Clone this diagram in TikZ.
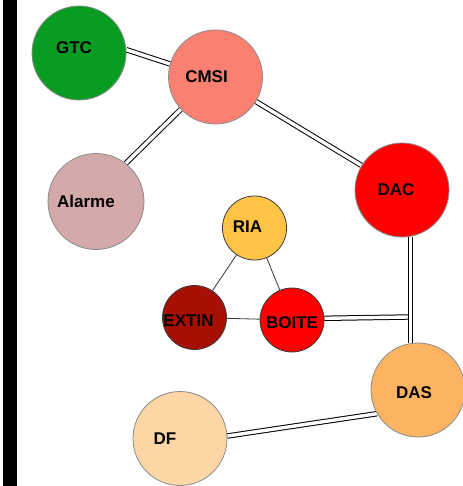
\documentclass[tikz,border=0pt]{standalone}
\usepackage{fontspec}
\setsansfont{Liberation Sans}
\usetikzlibrary{calc,backgrounds}
\definecolor{gtcfill}{HTML}{089C23}
\definecolor{cmsifill}{HTML}{FA8072}
\definecolor{alarmfill}{HTML}{D4A9A9}
\definecolor{dacfill}{HTML}{FF0000}
\definecolor{riafill}{HTML}{FFC445}
\definecolor{extinfill}{HTML}{A60F03}
\definecolor{boitefill}{HTML}{FF0000}
\definecolor{dasfill}{HTML}{FDB462}
\definecolor{dffill}{HTML}{FDD6A6}
\definecolor{rimgray}{HTML}{8A8A8A}
\definecolor{inkdark}{HTML}{3A3A3A}

\begin{document}
\begin{tikzpicture}[
  x=1pt, y=-1pt,
  font=\sffamily\bfseries\fontsize{17}{17}\selectfont,
  big/.style   = {circle, draw=rimgray, line width=0.8pt, minimum size=94pt, inner sep=0pt},
  small/.style = {circle, draw=inkdark, line width=0.8pt, minimum size=64pt, inner sep=0pt},
  tag/.style   = {inner sep=0pt, text=black},
  wire/.style  = {draw=black, line width=1pt, double=white, double distance=3.4pt},
  thin/.style  = {draw=inkdark, line width=0.8pt},
]
\useasboundingbox (0,0) rectangle (462,486);
\fill[black] (3,0) rectangle (17,486);

% --- the big circles -------------------------------------------------------------------------------
\node[big, fill=gtcfill]    (gtc)    at (79,53)    {};
\node[big, fill=cmsifill]   (cmsi)   at (215.5,77) {};
\node[big, minimum size=96pt, fill=alarmfill] (alarme) at (96,201.5) {};
\node[big, fill=dacfill]    (dac)    at (402,190)  {};
\node[big, fill=dasfill]    (das)    at (418,390)  {};
\node[big, fill=dffill]     (df)     at (180,438.5) {};

% --- the small triangle ----------------------------------------------------------------------------
\node[small, fill=riafill]   (ria)   at (254.5,228)   {};
\node[small, fill=extinfill] (extin) at (194.5,317.5) {};
\node[small, fill=boitefill] (boite) at (292,320)     {};

% --- the names, a little off centre ----------------------------------------------------------------
\node[tag] (gtcname)    at ($(gtc)+(-5,-5)$)    {GTC};
\node[tag] (cmsiname)   at ($(cmsi)+(-9,0)$)    {CMSI};
\node[tag] (alarmename) at ($(alarme)+(-10,0)$) {Alarme};
\node[tag] (dacname)    at ($(dac)+(-6,0)$)     {DAC};
\node[tag] (rianame)    at ($(ria)+(-7,-1)$)    {RIA};
\node[tag] (extinname)  at ($(extin)+(-6,3)$)   {EXTIN};
\node[tag] (boitename)  at ($(boite)+(0,3)$)    {BOITE};
\node[tag] (dasname)    at ($(das)+(-4,3)$)     {DAS};
\node[tag] (dfname)     at ($(df)+(-15,0)$)     {DF};

\coordinate (tee) at (410.5,317);

% --- the links, behind the circles -----------------------------------------------------------------
\begin{scope}[on background layer]
  \draw[wire] (gtc.4) -- (cmsi.164);
  \draw[wire] (cmsi.223) -- (alarme.52);
  \draw[wire] (cmsi) -- (dac);
  \draw[wire] (boite.3) -- ($(tee)+(-2,0)$);
  \draw[wire] (tee |- dac.south) -- (tee |- das.north);
  \draw[wire] (das.210) -- (df.3);
  \draw[thin] (ria) -- (extin);
  \draw[thin] (ria) -- (boite);
  \draw[thin] (extin) -- (boite);
\end{scope}

\end{tikzpicture}
\end{document}
